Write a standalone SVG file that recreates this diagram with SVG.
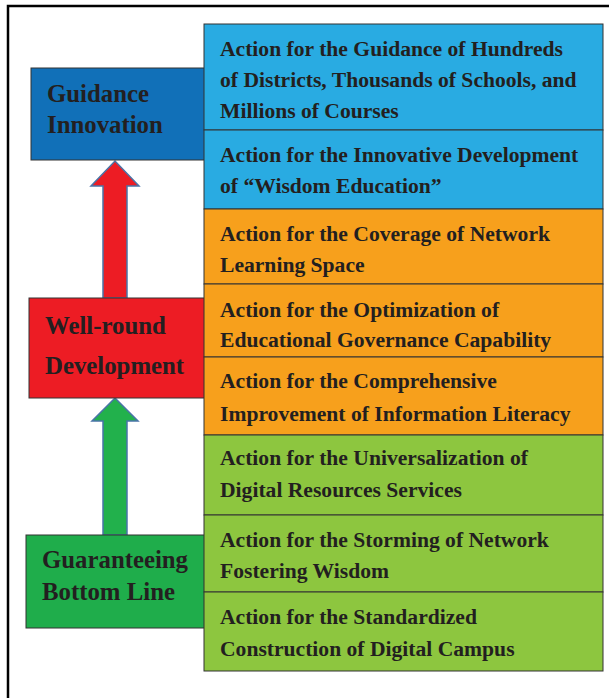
<svg xmlns="http://www.w3.org/2000/svg" width="609" height="698" viewBox="0 0 609 698">
<style>
text{font-family:"Liberation Serif","Times New Roman",serif;font-weight:bold;fill:#231f20}
.r{font-size:21.6px}
.l{font-size:24.8px}
.box{stroke:#333;stroke-width:1}
.arrow{stroke:#4a74a8;stroke-width:1.5}
</style>
<rect width="609" height="698" fill="#fff"/>
<path d="M8,698 V6 H609" fill="none" stroke="#000" stroke-width="2.5"/>
<g id="connectors">
<polygon class="arrow" fill="#ed1c24" points="103,298 103,186 91,186 115,161 139,186 127,186 127,298"/>
<polygon class="arrow" fill="#22b14c" points="103,535 103,421 92,421 115,398 138,421 127,421 127,535"/>
</g>
<g id="guidance">
<rect class="box" x="31" y="68" width="174" height="92" fill="#1170b8"/>
<text class="l" x="47" y="102">Guidance</text>
<text class="l" x="47" y="133">Innovation</text>
</g>
<g id="wellround">
<rect class="box" x="29" y="298" width="176" height="100" fill="#ed1c24"/>
<text class="l" x="45" y="334">Well-round</text>
<text class="l" x="45" y="374">Development</text>
</g>
<g id="bottomline">
<rect class="box" x="26" y="535" width="179" height="93" fill="#1fad4b"/>
<text class="l" x="42" y="568">Guaranteeing</text>
<text class="l" x="42" y="600">Bottom Line</text>
</g>
<g id="a1">
<rect class="box" x="204" y="24" width="399" height="106" fill="#29abe2"/>
<text class="r" x="220" y="56">Action for the Guidance of Hundreds</text>
<text class="r" x="220" y="87">of Districts, Thousands of Schools, and</text>
<text class="r" x="220" y="118">Millions of Courses</text>
</g>
<g id="a2">
<rect class="box" x="204" y="130" width="399" height="79" fill="#29abe2"/>
<text class="r" x="220" y="162">Action for the Innovative Development</text>
<text class="r" x="220" y="193">of “Wisdom Education”</text>
</g>
<g id="a3">
<rect class="box" x="204" y="209" width="399" height="75" fill="#f7a01c"/>
<text class="r" x="220" y="241">Action for the Coverage of Network</text>
<text class="r" x="220" y="272">Learning Space</text>
</g>
<g id="a4">
<rect class="box" x="204" y="284" width="399" height="73" fill="#f7a01c"/>
<text class="r" x="220" y="317">Action for the Optimization of</text>
<text class="r" x="220" y="347">Educational Governance Capability</text>
</g>
<g id="a5">
<rect class="box" x="204" y="357" width="399" height="78" fill="#f7a01c"/>
<text class="r" x="220" y="388">Action for the Comprehensive</text>
<text class="r" x="220" y="421">Improvement of Information Literacy</text>
</g>
<g id="a6">
<rect class="box" x="204" y="435" width="399" height="80" fill="#8dc63f"/>
<text class="r" x="220" y="465">Action for the Universalization of</text>
<text class="r" x="220" y="497">Digital Resources Services</text>
</g>
<g id="a7">
<rect class="box" x="204" y="515" width="399" height="77" fill="#8dc63f"/>
<text class="r" x="220" y="547">Action for the Storming of Network</text>
<text class="r" x="220" y="578">Fostering Wisdom</text>
</g>
<g id="a8">
<rect class="box" x="204" y="592" width="399" height="79" fill="#8dc63f"/>
<text class="r" x="220" y="624">Action for the Standardized</text>
<text class="r" x="220" y="656">Construction of Digital Campus</text>
</g>
</svg>
